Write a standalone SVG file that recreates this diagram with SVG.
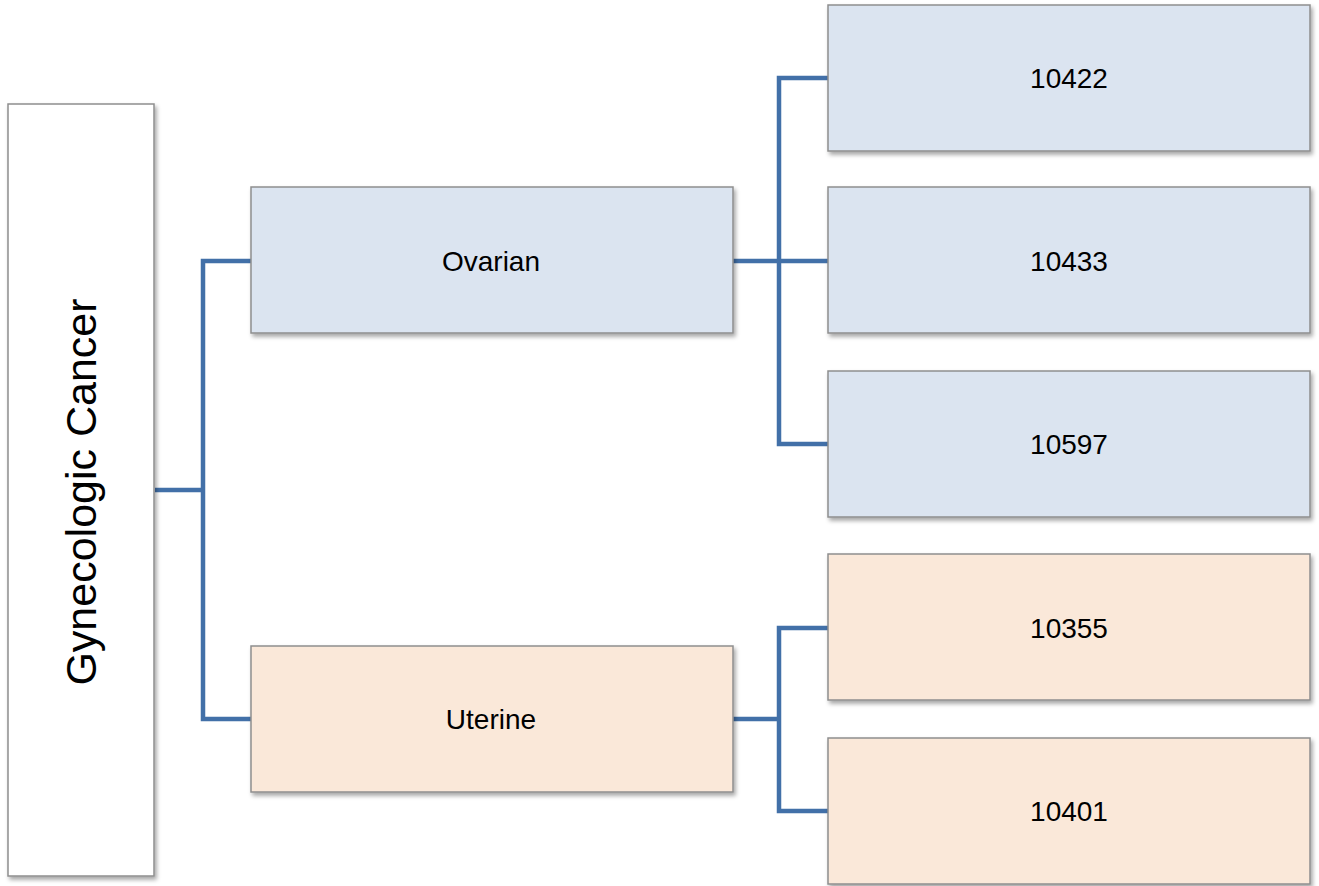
<svg xmlns="http://www.w3.org/2000/svg" width="1319" height="886" viewBox="0 0 1319 886">
<defs>
<filter id="sh" x="-10%" y="-10%" width="130%" height="130%">
<feDropShadow dx="2" dy="3" stdDeviation="2" flood-color="#000" flood-opacity="0.35"/>
</filter>
<style>
.box{stroke:#8e8e8e;stroke-width:1.5;filter:url(#sh)}
.root{fill:#ffffff}
.blue{fill:#dbe4f0}
.orange{fill:#fae8d9}
.lbl{font-family:"Liberation Sans",Arial,sans-serif;font-size:28px;fill:#000;text-anchor:middle;dominant-baseline:central}
.conn{fill:none;stroke:#4270a8;stroke-width:4.5;stroke-linejoin:miter}
</style>
</defs>
<rect width="1319" height="886" fill="#ffffff"/>
<g id="connectors">
<path class="conn" d="M155 490 H203 M251 261 H203 V719 H251"/>
<path class="conn" d="M733 261 H779 M828 78 H779 V444 H828 M779 261 H828"/>
<path class="conn" d="M733 719 H779 M828 628 H779 V811 H828"/>
</g>
<g id="root">
<rect class="box root" x="8" y="104" width="146" height="772"/>
<text class="lbl" transform="translate(81 492) rotate(-90)" style="font-size:43px">Gynecologic Cancer</text>
</g>
<g id="ovarian">
<rect class="box blue" x="251" y="187" width="482" height="146"/>
<text class="lbl" x="491" y="261">Ovarian</text>
</g>
<g id="uterine">
<rect class="box orange" x="251" y="646" width="482" height="146"/>
<text class="lbl" x="491" y="719">Uterine</text>
</g>
<g id="n10422">
<rect class="box blue" x="828" y="5" width="482" height="146"/>
<text class="lbl" x="1069" y="78">10422</text>
</g>
<g id="n10433">
<rect class="box blue" x="828" y="187" width="482" height="146"/>
<text class="lbl" x="1069" y="261">10433</text>
</g>
<g id="n10597">
<rect class="box blue" x="828" y="371" width="482" height="146"/>
<text class="lbl" x="1069" y="444">10597</text>
</g>
<g id="n10355">
<rect class="box orange" x="828" y="554" width="482" height="146"/>
<text class="lbl" x="1069" y="628">10355</text>
</g>
<g id="n10401">
<rect class="box orange" x="828" y="738" width="482" height="146"/>
<text class="lbl" x="1069" y="811">10401</text>
</g>
</svg>
